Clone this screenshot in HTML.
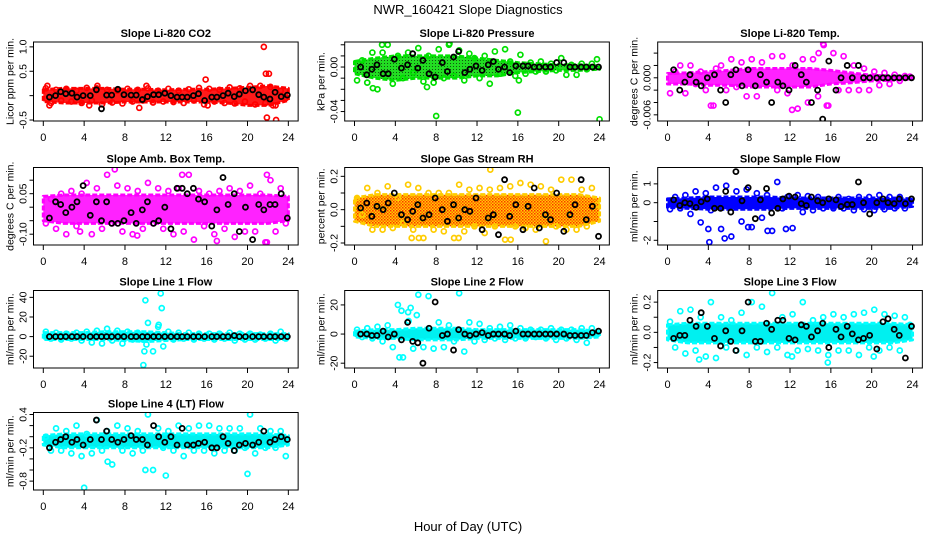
<!DOCTYPE html>
<html><head><meta charset="utf-8"><style>
body{margin:0;background:#fff;}
svg{display:block;font-family:"Liberation Sans",sans-serif;}
</style></head><body>
<svg id="chart" width="936" height="540" viewBox="0 0 936 540">
<defs>
<pattern id="pat-rh" width="3" height="3" patternUnits="userSpaceOnUse"><rect width="3" height="3" fill="#ffd000"/><rect width="1.5" height="1.5" fill="#ff3000"/><rect x="1.5" y="1.5" width="1.5" height="1.5" fill="#ff6000"/></pattern>
<pattern id="pat-pres" width="3" height="3" patternUnits="userSpaceOnUse"><rect width="3" height="3" fill="#22dd22"/><rect width="1" height="1" fill="#115511"/></pattern>
</defs>
<text x="468" y="14" text-anchor="middle" font-size="13">NWR_160421  Slope Diagnostics</text>
<text x="468" y="531" text-anchor="middle" font-size="13">Hour of Day (UTC)</text>
</svg>
<script>
// shared hours
const blkHours=[0.6,1.2,1.7,2.2,2.8,3.3,3.9,4.6,5.2,5.7,6.2,6.7,7.3,7.9,8.6,9.1,9.7,10.2,10.8,11.3,11.9,12.5,13.1,13.6,14.1,14.7,15.2,15.8,16.5,17.0,17.6,18.1,18.7,19.2,19.8,20.5,21.1,21.6,22.2,22.7,23.3,23.9];
const colHours=[0.25,0.75,1.25,1.75,2.25,2.75,3.25,3.75,4.25,4.75,5.25,5.75,6.25,6.75,7.25,7.75,8.25,8.75,9.25,9.75,10.25,10.75,11.25,11.75,12.25,12.75,13.25,13.75,14.25,14.75,15.25,15.75,16.25,16.75,17.25,17.75,18.25,18.75,19.25,19.75,20.25,20.75,21.25,21.75,22.25,22.75,23.25,23.75];
const bandHours=[0,2,4,6,8,10,12,14,16,18,20,22,24];
const xTicks=[0,4,8,12,16,20,24];

// CO2
const co2Hi=[0.12,0.15,0.15,0.15,0.13,0.13,0.12,0.13,0.13,0.15,0.17,0.2,0.15];
const co2Lo=[-0.12,-0.15,-0.15,-0.15,-0.13,-0.13,-0.13,-0.13,-0.13,-0.15,-0.2,-0.2,-0.1];
const co2Col=[0.15,-0.15,0.12,-0.1,0.14,-0.12,0.1,-0.15,0.16,-0.1,0.15,-0.18,0.12,-0.14,0.1,-0.16,0.14,-0.12,0.12,-0.1,0.15,-0.14,0.1,-0.12,0.14,-0.13,0.1,-0.15,0.13,-0.1,0.16,-0.18,0.14,-0.12,0.12,-0.15,0.17,-0.16,0.15,-0.12,0.2,-0.18,0.2,-0.15,0.18,-0.2,0.1,-0.05];
const co2OutH=[0.4,0.6,5.3,9.4,10.1,15.9,16.1,21.6,21.8,22.1,21.9,22.8,22.5,4.5];
const co2OutV=[0.2,-0.2,0.2,-0.25,0.2,0.33,-0.2,1.0,0.45,0.45,-0.45,-0.5,-0.2,-0.2];
const co2Blk=[-0.03,0,0.08,0.04,0.05,-0.03,0,0,0.12,-0.27,0.01,0.01,0.13,0.02,0.01,0.01,-0.08,-0.02,0.02,0.02,0.05,0,-0.03,-0.03,-0.03,0,0.04,-0.1,-0.03,-0.03,0,0.05,-0.02,0.03,0.1,0.12,0.02,-0.03,-0.07,0.07,-0.02,0.01];
// Pressure
const presHi=[0.005,0.008,0.01,0.01,0.01,0.01,0.008,0.006,0.004,0.003,0.002,0.002,0.001];
const presLo=[-0.006,-0.01,-0.012,-0.01,-0.01,-0.01,-0.008,-0.008,-0.005,-0.004,-0.003,-0.003,-0.002];
const presCol=[-0.012,0.006,-0.014,0.013,-0.02,0.013,0.02,-0.015,0.01,-0.01,0.013,-0.005,0.017,-0.013,0.01,-0.014,0.016,-0.01,0.02,-0.008,0.015,-0.012,0.012,0.008,-0.01,0.01,-0.015,0.014,-0.006,0.016,0.005,-0.008,0.011,-0.006,0.004,-0.004,0.005,-0.004,0.003,-0.003,0.008,-0.007,0.002,-0.007,0.003,-0.002,0.003,0.007];
const presOutH=[8,16,24,2.7,9.3,7.1,1.8,16.1];
const presOutV=[-0.044,-0.041,-0.047,0.02,0.021,-0.018,-0.019,-0.012];
const presBlk=[0,-0.007,-0.002,0.002,-0.006,-0.006,0.007,-0.001,0.002,0.012,-0.001,0.006,-0.006,-0.009,0.004,-0.004,0.009,0.014,-0.005,-0.002,0.001,-0.003,0.002,0.005,-0.002,0,-0.005,0.001,0.001,0.001,0,0,0,0,0.004,0.004,0,0,0,0,0,0];
// Li-820 Temp
const tempHi=[0.0007,0.0008,0.001,0.0012,0.0015,0.0015,0.0015,0.0015,0.0012,0.0008,0.0004,0.0003,0.0002];
const tempLo=[-0.001,-0.001,-0.0012,-0.0012,-0.0015,-0.0015,-0.0015,-0.0015,-0.001,-0.0008,-0.0005,-0.0004,-0.0002];
const tempCol=[-0.0025,0.001,0.002,-0.0025,0.002,-0.001,0.001,-0.002,-0.0045,0.0015,0.002,-0.002,0.003,-0.0015,0.0025,-0.003,0.003,-0.003,0.0025,-0.001,0.0035,-0.002,0.0035,-0.0025,0.002,-0.005,0.003,-0.004,0.003,-0.003,0.0055,-0.0045,0.004,-0.002,0.0035,-0.002,0.002,-0.002,0.0015,-0.002,0.001,-0.0012,0.0008,-0.001,0.0005,-0.0005,0.0003,0.0002];
const tempOutH=[15.3,14.8,12.2,4.5,15.6];
const tempOutV=[0.0053,0.004,-0.0052,-0.0045,-0.0045];
const tempBlk=[0.0013,-0.002,-0.0007,0.0005,-0.0007,-0.0013,0,0.0005,-0.002,-0.004,0.0005,0.0013,-0.0013,0.0013,-0.0013,0.0005,-0.0007,-0.004,-0.0007,-0.0013,-0.002,0.002,0.0005,-0.0007,-0.004,-0.002,-0.0067,0.0027,-0.002,0,0.002,0,0.002,0,0,0,0,0,0,0,0,0];
// Amb box temp
const ambHi=[0.04,0.045,0.045,0.045,0.045,0.045,0.045,0.045,0.045,0.045,0.045,0.045,0.04];
const ambLo=[-0.05,-0.06,-0.06,-0.06,-0.06,-0.06,-0.06,-0.06,-0.06,-0.06,-0.06,-0.06,-0.05];
const ambCol=[-0.06,0.03,-0.08,0.05,-0.1,0.06,-0.07,0.05,0.09,-0.1,0.07,-0.08,0.12,-0.06,0.08,-0.09,0.07,-0.1,0.06,-0.08,0.09,-0.06,0.07,-0.08,0.06,-0.1,0.07,-0.09,0.12,-0.12,0.06,-0.07,0.05,-0.1,0.06,-0.08,0.07,-0.11,0.06,-0.09,0.08,-0.09,0.05,-0.13,0.1,-0.09,0.07,-0.06];
const ambOutH=[7.0,13.6,21.9,21.9,17,9.2,3.6];
const ambOutV=[0.14,0.12,0.12,-0.13,-0.125,-0.105,-0.09];
const ambBlk=[-0.04,0.02,0.01,-0.02,0,0.02,0.08,-0.03,0.02,-0.05,0.02,-0.06,-0.06,-0.05,-0.02,-0.06,-0.01,0.02,-0.06,-0.05,0,-0.08,0.07,0.07,0.05,0.07,0.03,0.02,-0.07,-0.01,0.11,0.01,0.05,-0.09,0,-0.12,0.01,-0.01,0.01,0.01,0.05,-0.04];
// Gas stream RH
const rhHi=[0.07,0.09,0.09,0.09,0.09,0.09,0.09,0.09,0.09,0.09,0.09,0.09,0.07];
const rhLo=[-0.07,-0.1,-0.1,-0.1,-0.1,-0.1,-0.1,-0.1,-0.1,-0.1,-0.1,-0.1,-0.07];
const rhCol=[0.07,-0.03,0.13,-0.12,0.1,-0.12,0.14,-0.11,0.07,-0.08,0.15,-0.12,0.13,-0.17,0.1,-0.12,0.1,-0.13,0.1,-0.17,0.15,-0.13,0.12,-0.1,0.13,-0.14,0.12,-0.1,0.13,-0.18,0.14,-0.1,0.16,-0.11,0.15,-0.12,0.14,-0.19,0.12,-0.1,0.18,-0.12,0.18,-0.12,0.12,-0.1,0.13,0.03];
const rhOutH=[13.3,5.6,6.3,10.2,15.3];
const rhOutV=[0.24,-0.17,-0.17,-0.17,-0.18];
const rhBlk=[0.01,0.04,-0.04,0.02,0,0.04,0.1,-0.03,-0.06,-0.01,0.03,-0.05,-0.03,0.07,0,-0.07,0.03,-0.05,0,-0.01,0.07,-0.12,-0.05,-0.03,-0.15,0.18,-0.04,0.03,-0.12,0.02,0.13,-0.11,-0.03,-0.06,0.1,-0.13,-0.03,0.03,0.18,-0.06,0.02,-0.16];
// Sample flow
const sfHi=[0.2,0.25,0.3,0.3,0.3,0.3,0.25,0.25,0.25,0.25,0.25,0.25,0.2];
const sfLo=[-0.25,-0.3,-0.35,-0.35,-0.35,-0.35,-0.3,-0.3,-0.3,-0.3,-0.3,-0.3,-0.2];
const sfCol=[-0.35,0.3,-0.3,0.4,-0.6,0.6,-1.05,0.5,-0.4,0.8,-1.4,0.9,-1.8,0.6,-1.0,0.7,-1.3,0.5,-0.8,0.4,-1.5,1.1,-0.3,0.3,-1.35,0.4,-0.5,0.35,-0.4,0.3,-0.3,0.2,-0.3,0.3,-0.3,0.2,-0.4,0.3,-0.35,0.3,-0.4,0.4,-0.35,0.3,-0.3,0.3,-0.3,0.1];
const sfOutH=[4.1,5.6,9.8,11.6,7.9,4.0];
const sfOutV=[-2.1,-1.9,-1.5,-1.4,-1.3,-1.4];
const sfBlk=[0.15,-0.15,0,-0.05,-0.25,0.05,0.2,-0.3,-0.3,0.6,-0.5,1.65,0.1,0.8,-0.85,0.15,0.75,-0.55,-0.3,0.2,0.35,0.3,-0.05,-0.15,0.3,0.1,0,0.2,0.15,-0.2,-0.1,-0.1,1.1,0,-0.6,0,0.2,0,-0.05,0.2,-0.05,0.2];
// Line 1
const l1Hi=[4,4,4,5,5,5,4,3,3,3,3,3,3];
const l1Lo=[-3,-3,-3,-3,-4,-5,-4,-3,-3,-3,-3,-3,-3];
const l1Col=[5,-2,4,-3,3,-2,4,-4,5,-6,6,-7,8,-4,6,-7,5,-3,4,-3,14,-15,10,-10,5,-3,4,-2,4,-3,3,-2,3,-3,3,-2,4,-4,3,-3,3,-3,2,-2,3,-4,5,-2];
const l1OutH=[10,11.5,11.6,9.8,9.9,10.1,11.3];
const l1OutV=[37,44,29,-29,-15,-8,12];
const l1Blk=[0,0,0,0,0,0,0,0,0,0,0,0,0,0,0,0,0,0,0,0,0,0,0,0,0,0,0,0,0,0,0,0,1,0,0,0,0,0,0,0,0,0];
// Line 2
const l2Hi=[2,3,3,4,4,4,3,3,3,3,3,3,2];
const l2Lo=[-2,-3,-3,-4,-4,-4,-3,-3,-3,-3,-3,-3,-2];
const l2Col=[3,-2,4,-3,5,-5,6,-9,20,-16,15,-10,27,-9,26,-10,8,-9,6,-5,28,-12,8,-5,7,-4,4,-3,5,-4,6,-3,4,-3,3,-2,3,-3,4,-4,3,-3,3,-4,4,-6,4,1];
const l2OutH=[4.4,4.6,5.5,6.1,5.3];
const l2OutV=[-16,16,18,13,9];
const l2Blk=[0,0,-1,-1,2,-2,0,-4,8,-5,-6,-20,4,22,-1,0,-11,3,0,-1,0,1,-1,0,0,0,-1,2,0,0,0,0,0,0,0,0,-1,-1,-1,-1,1,2];
// Line 3
const l3Hi=[0.05,0.06,0.06,0.06,0.06,0.06,0.06,0.06,0.06,0.06,0.06,0.06,0.05];
const l3Lo=[-0.05,-0.07,-0.07,-0.07,-0.07,-0.07,-0.07,-0.07,-0.07,-0.07,-0.07,-0.07,-0.05];
const l3Col=[0.07,-0.1,0.14,-0.14,0.15,-0.12,0.1,-0.16,0.2,-0.17,0.1,-0.1,0.08,-0.12,0.13,-0.15,0.2,-0.1,0.17,-0.13,0.26,-0.1,0.1,-0.15,0.12,-0.12,0.2,-0.11,0.08,-0.12,0.1,-0.15,0.12,-0.12,0.1,-0.12,0.12,-0.15,0.13,-0.1,0.15,-0.12,0.12,-0.1,0.11,-0.12,0.1,0.05];
const l3OutH=[15.7,12.2,20.2,3.1];
const l3OutV=[-0.2,-0.16,-0.16,-0.18];
const l3Blk=[-0.04,-0.02,-0.02,0.08,0.04,0.13,0.04,-0.04,-0.09,0.01,-0.06,-0.12,0.01,0.2,-0.06,-0.06,0.06,0.02,0.08,0.08,-0.04,-0.05,0.05,0.04,-0.03,0.01,0.06,-0.1,0.02,-0.03,0.04,-0.01,-0.05,-0.04,-0.02,-0.11,0.07,0.09,0.02,-0.02,-0.17,0.04];
// Line 4
const l4Hi=[0.02,0.05,0.05,0.05,0.05,0.05,0.05,0.05,0.05,0.05,0.05,0.05,0.02];
const l4Lo=[-0.15,-0.2,-0.2,-0.2,-0.2,-0.2,-0.2,-0.2,-0.2,-0.2,-0.2,-0.2,-0.15];
const l4Col=[0,-0.25,0.15,-0.25,0.1,-0.3,0.2,-0.35,0.05,-0.3,0.3,-0.25,0.1,-0.5,0.2,-0.25,0.15,-0.3,0.1,-0.25,0.4,-0.6,0.15,-0.2,0.1,-0.25,0.2,-0.35,0.15,-0.25,0.2,-0.25,0.2,-0.3,0.15,-0.25,0.15,-0.25,0.15,-0.2,0.4,-0.3,0.15,-0.2,0.1,-0.2,0.1,-0.35];
const l4OutH=[4,12,20,6.3,10];
const l4OutV=[-0.92,-0.7,-0.67,-0.45,-0.6];
const l4Blk=[-0.2,-0.1,-0.05,0,-0.1,-0.05,-0.15,-0.05,0.3,-0.05,0.1,-0.05,-0.1,-0.05,0.02,-0.05,-0.05,-0.15,0.2,0,-0.1,0,-0.15,0.15,-0.15,-0.15,-0.12,-0.1,-0.2,-0.2,0,-0.12,-0.25,-0.15,-0.12,-0.15,-0.1,0.1,-0.1,-0.05,0,-0.05];

const colX=[43.3,354.5,667.5];
const rowY=[[42,121],[167.5,245],[290.5,368],[412.5,490]];
const panels=[
 {name:"co2",title:"Slope Li-820 CO2",ylab:"Licor ppm per min.",c:0,r:0,ymin:-0.52,ymax:1.1,ticks:[-0.5,0,0.5,1],labs:["-0.5","","0.5","1.0"],color:"#ff0000",band:"#ff1a1a",hi:co2Hi,lo:co2Lo,col:co2Col,oh:co2OutH,ov:co2OutV,blk:co2Blk},
 {name:"pressure",title:"Slope Li-820 Pressure",ylab:"kPa per min.",c:1,r:0,ymin:-0.0485,ymax:0.0225,ticks:[-0.04,-0.03,-0.02,-0.01,0,0.01,0.02],labs:["-0.04","","","","0.00","",""],color:"#00e000",band:"url(#pat-pres)",hi:presHi,lo:presLo,col:presCol,oh:presOutH,ov:presOutV,blk:presBlk},
 {name:"li820-temp",title:"Slope Li-820 Temp.",ylab:"degrees C per min.",c:2,r:0,ymin:-0.007,ymax:0.0058,ticks:[-0.006,-0.004,-0.002,0,0.002,0.004],labs:["-0.006","","","0.000","",""],color:"#ff00ff",band:"#ff22ff",hi:tempHi,lo:tempLo,col:tempCol,oh:tempOutH,ov:tempOutV,blk:tempBlk},
 {name:"amb-box-temp",title:"Slope Amb. Box Temp.",ylab:"degrees C per min.",c:0,r:1,ymin:-0.14,ymax:0.147,ticks:[-0.1,-0.05,0,0.05,0.1],labs:["-0.10","","","0.05",""],color:"#ff00ff",band:"#ff22ff",hi:ambHi,lo:ambLo,col:ambCol,oh:ambOutH,ov:ambOutV,blk:ambBlk},
 {name:"gas-stream-rh",title:"Slope Gas Stream RH",ylab:"percent per min.",c:1,r:1,ymin:-0.212,ymax:0.253,ticks:[-0.2,-0.1,0,0.1,0.2],labs:["-0.2","","0.0","","0.2"],color:"#ffcc00",band:"url(#pat-rh)",hi:rhHi,lo:rhLo,col:rhCol,oh:rhOutH,ov:rhOutV,blk:rhBlk},
 {name:"sample-flow",title:"Slope Sample Flow",ylab:"ml/min per min.",c:2,r:1,ymin:-2.25,ymax:1.87,ticks:[-2,-1,0,1],labs:["-2","","0","1"],color:"#0000ff",band:"#0000ff",hi:sfHi,lo:sfLo,col:sfCol,oh:sfOutH,ov:sfOutV,blk:sfBlk},
 {name:"line1-flow",title:"Slope Line 1 Flow",ylab:"ml/min per min.",c:0,r:2,ymin:-32,ymax:47,ticks:[-20,0,20,40],labs:["-20","0","20","40"],color:"#00ffff",band:"#00f0f0",hi:l1Hi,lo:l1Lo,col:l1Col,oh:l1OutH,ov:l1OutV,blk:l1Blk},
 {name:"line2-flow",title:"Slope Line 2 Flow",ylab:"ml/min per min.",c:1,r:2,ymin:-23.3,ymax:29.9,ticks:[-20,0,20],labs:["-20","0","20"],color:"#00ffff",band:"#00f0f0",hi:l2Hi,lo:l2Lo,col:l2Col,oh:l2OutH,ov:l2OutV,blk:l2Blk},
 {name:"line3-flow",title:"Slope Line 3 Flow",ylab:"ml/min per min.",c:2,r:2,ymin:-0.236,ymax:0.277,ticks:[-0.2,-0.1,0,0.1,0.2],labs:["-0.2","","0.0","","0.2"],color:"#00ffff",band:"#00f0f0",hi:l3Hi,lo:l3Lo,col:l3Col,oh:l3OutH,ov:l3OutV,blk:l3Blk},
 {name:"line4-flow",title:"Slope Line 4 (LT) Flow",ylab:"ml/min per min.",c:0,r:3,ymin:-0.96,ymax:0.436,ticks:[-0.8,-0.6,-0.4,-0.2,0,0.2,0.4],labs:["-0.8","","","-0.2","","","0.4"],color:"#00ffff",band:"#00f0f0",hi:l4Hi,lo:l4Lo,col:l4Col,oh:l4OutH,ov:l4OutV,blk:l4Blk}
];
const NS="http://www.w3.org/2000/svg";
const svg=document.getElementById("chart");
function mk(tag,attrs,parent){const e=document.createElementNS(NS,tag);for(const k in attrs)e.setAttribute(k,attrs[k]);parent.appendChild(e);return e;}
const PXH=10.21;
panels.forEach(p=>{
  const x0=colX[p.c];
  const [top,bot]=rowY[p.r];
  const left=x0-0.96*PXH, right=x0+24.96*PXH;
  const xs=h=>x0+h*PXH;
  const ys=v=>bot-(v-p.ymin)/(p.ymax-p.ymin)*(bot-top);
  const g=mk("g",{},svg);
  
  
  const clipId="clip-"+p.name;
  const cp=mk("clipPath",{id:clipId},g);
  mk("rect",{x:left,y:top,width:right-left,height:bot-top},cp);
  const pg=mk("g",{"clip-path":"url(#"+clipId+")"},g);
  let pts=[];
  bandHours.forEach((h,i)=>pts.push(xs(h)+","+ys(p.hi[i])));
  for(let i=bandHours.length-1;i>=0;i--)pts.push(xs(bandHours[i])+","+ys(p.lo[i]));
  const band=mk("polygon",{points:pts.join(" "),fill:p.band,stroke:p.color,"stroke-width":3,"stroke-linejoin":"round","stroke-dasharray":"5 2"},pg);
  
  
  colHours.forEach((h,i)=>{
    const c=mk("circle",{cx:xs(h),cy:ys(p.col[i]),r:2.5,fill:"none",stroke:p.color,"stroke-width":1.7},pg);
    
    
  });
  p.oh.forEach((h,i)=>{
    const c=mk("circle",{cx:xs(h),cy:ys(p.ov[i]),r:2.5,fill:"none",stroke:p.color,"stroke-width":1.7},pg);
    
    
  });
  blkHours.forEach((h,i)=>{
    const c=mk("circle",{cx:xs(h),cy:ys(p.blk[i]),r:2.5,fill:"none",stroke:"#000","stroke-width":1.8},pg);
    
    
  });
  const fr=mk("rect",{x:left,y:top,width:right-left,height:bot-top,fill:"none",stroke:"#000","stroke-width":1},g);
  
  
  const t=mk("text",{x:(left+right)/2,y:top-5,"text-anchor":"middle","font-size":11,"font-weight":"bold"},g);
  t.textContent=p.title;
  
  
  xTicks.forEach(v=>{
    mk("line",{x1:xs(v),x2:xs(v),y1:bot,y2:bot+5,stroke:"#000"},g);
    const l=mk("text",{x:xs(v),y:bot+20,"text-anchor":"middle","font-size":11},g);
    l.textContent=v;
    
    
  });
  p.ticks.forEach((v,i)=>{
    mk("line",{x1:left,x2:left-4,y1:ys(v),y2:ys(v),stroke:"#000"},g);
    if(p.labs[i]){
      const yy=ys(v);
      const l=mk("text",{x:left-7,y:yy,"text-anchor":"middle","font-size":10.5,transform:"rotate(-90 "+(left-7)+" "+yy+")"},g);
      l.textContent=p.labs[i];
      
      
    }
  });
  const yc=(top+bot)/2, xl=left-20;
  const yl=mk("text",{x:xl,y:yc,"text-anchor":"middle","font-size":10.5,transform:"rotate(-90 "+xl+" "+yc+")"},g);
  yl.textContent=p.ylab;
  
  
});
</script>
</body></html>
